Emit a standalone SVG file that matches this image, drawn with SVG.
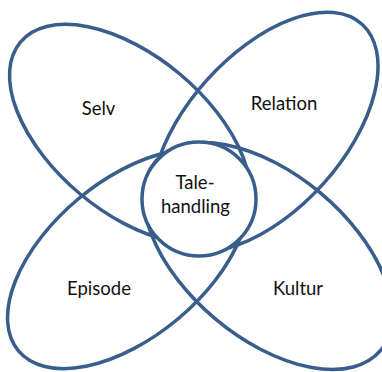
<svg xmlns="http://www.w3.org/2000/svg" width="382" height="372" viewBox="0 0 382 372">
  <style>
    .shape { fill: none; stroke: #395E8C; stroke-width: 3.5; }
    .hub { fill: #ffffff; stroke: #395E8C; stroke-width: 3.5; }
    .label { font-family: Lato, "Open Sans", sans-serif; font-size: 18.5px; fill: #111111; text-anchor: middle; }
  </style>
  <rect width="382" height="372" fill="#ffffff"/>
  <g id="connectors"></g>
  <g id="selv">
    <ellipse class="shape" cx="130" cy="134" rx="143" ry="78" transform="rotate(40 130 134)"/>
    <text class="label" x="98.5" y="115">Selv</text>
  </g>
  <g id="relation">
    <ellipse class="shape" cx="265" cy="132" rx="145" ry="78" transform="rotate(-48 265 132)"/>
    <text class="label" x="284" y="110">Relation</text>
  </g>
  <g id="episode">
    <ellipse class="shape" cx="128" cy="259" rx="143" ry="78" transform="rotate(-40 128 259)"/>
    <text class="label" x="99" y="295">Episode</text>
  </g>
  <g id="kultur">
    <ellipse class="shape" cx="268" cy="256" rx="147" ry="82" transform="rotate(40 268 256)"/>
    <text class="label" x="298" y="295">Kultur</text>
  </g>
  <g id="talehandling">
    <circle class="hub" cx="199" cy="199" r="57"/>
    <text class="label" x="195" y="189">Tale-</text>
    <text class="label" x="195.5" y="213">handling</text>
  </g>
</svg>
